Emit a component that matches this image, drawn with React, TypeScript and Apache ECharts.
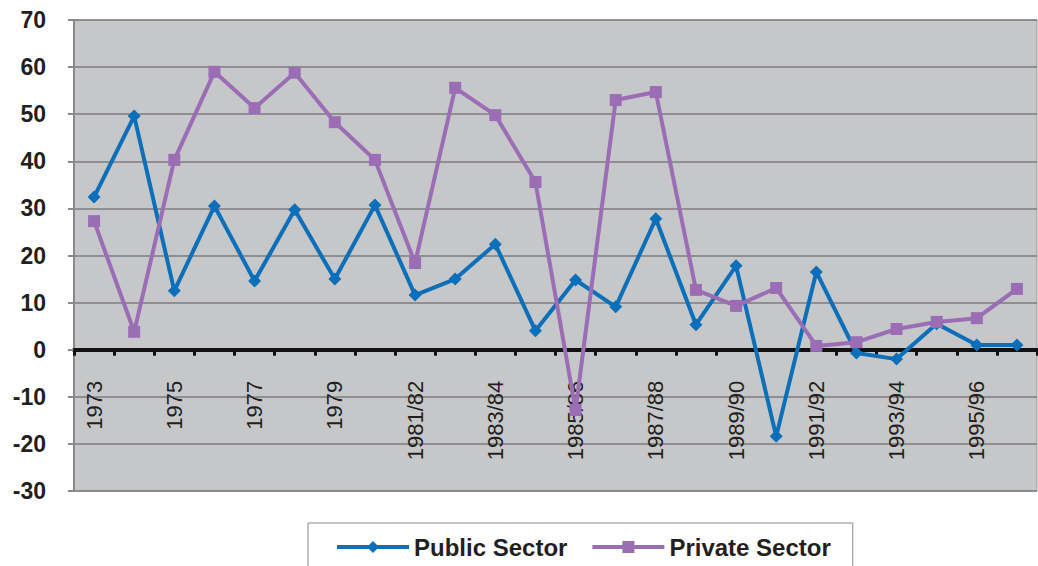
import React, { useEffect, useRef } from "react";
import * as echarts from "echarts";

const categories = [
  "1973", "1974", "1975", "1976", "1977", "1978", "1979", "1980",
  "1981/82", "1982/83", "1983/84", "1984/85", "1985/86", "1986/87", "1987/88", "1988/89",
  "1989/90", "1990/91", "1991/92", "1992/93", "1993/94", "1994/95", "1995/96", "1996/97",
];

const publicSector = [
  32.4, 49.6, 12.5, 30.5, 14.6, 29.7, 15.0, 30.7,
  11.6, 15.0, 22.4, 4.0, 14.8, 9.1, 27.8, 5.3,
  17.8, -18.4, 16.5, -0.7, -2.0, 5.5, 1.0, 1.0,
];

const privateSector = [
  27.3, 3.8, 40.3, 59.0, 51.3, 58.8, 48.3, 40.3,
  18.4, 55.6, 49.8, 35.6, -12.8, 53.0, 54.7, 12.7,
  9.3, 13.1, 0.8, 1.6, 4.4, 5.9, 6.7, 12.9,
];

const yMin = -30;
const yMax = 70;

const FONT = "'Liberation Sans', Arial, Helvetica, sans-serif";

export default function App() {
  const ref = useRef<HTMLDivElement>(null);

  useEffect(() => {
    document.body.style.margin = "0";
    if (!ref.current) return;
    const chart = echarts.init(ref.current, undefined, { renderer: "svg" });
    const gridTop = 20;
    const gridBottom = 75;
    const gridHeight = 566 - gridTop - gridBottom;
    const zeroOffset = -(gridHeight * (0 - yMin)) / (yMax - yMin);
    chart.setOption({
      animation: false,
      backgroundColor: "#ffffff",
      textStyle: { fontFamily: FONT },
      grid: {
        left: 74,
        right: 1,
        top: gridTop,
        bottom: gridBottom,
        outerBoundsMode: "none",
        containLabel: false,
        show: true,
        backgroundColor: "#c6c7c9",
        borderColor: "#9a9a9c",
        borderWidth: 1,
      },
      legend: {
        left: 308,
        top: 523,
        orient: "horizontal",
        padding: [12, 22, 30, 27],
        borderColor: "#8a8a8a",
        borderWidth: 1,
        itemWidth: 72,
        itemHeight: 15,
        itemGap: 23,
        lineStyle: { width: 4 },
        textStyle: {
          fontFamily: FONT,
          fontSize: 24,
          fontWeight: "bold",
          color: "#231f20",
        },
        data: ["Public Sector", "Private Sector"],
      },
      xAxis: {
        type: "category",
        data: categories,
        boundaryGap: true,
        position: "bottom",
        offset: zeroOffset,
        axisLine: { onZero: false, lineStyle: { color: "#111111", width: 4 } },
        axisTick: { show: true, interval: 0, length: 6, lineStyle: { color: "#111111", width: 3 } },
        axisLabel: {
          interval: 1,
          rotate: 90,
          margin: 31,
          fontFamily: FONT,
          fontSize: 22,
          color: "#231f20",
        },
        splitLine: { show: false },
      },
      yAxis: {
        type: "value",
        min: yMin,
        max: yMax,
        interval: 10,
        axisLine: { show: true, lineStyle: { color: "#8a8a8c", width: 2 } },
        axisTick: { show: true, length: 6, lineStyle: { color: "#8a8a8c", width: 2 } },
        axisLabel: {
          margin: 28,
          fontFamily: FONT,
          fontSize: 23,
          fontWeight: "bold",
          color: "#231f20",
        },
        splitLine: { show: true, lineStyle: { color: "#7d7d7f", width: 1.5 } },
      },
      series: [
        {
          name: "Public Sector",
          type: "line",
          data: publicSector,
          symbol: "diamond",
          symbolSize: 13,
          itemStyle: { color: "#0b6fba" },
          lineStyle: { color: "#0b6fba", width: 4 },
        },
        {
          name: "Private Sector",
          type: "line",
          data: privateSector,
          symbol: "rect",
          symbolSize: 12,
          itemStyle: { color: "#9b6db5" },
          lineStyle: { color: "#9b6db5", width: 4 },
        },
      ],
    });
    return () => chart.dispose();
  }, []);

  return <div ref={ref} style={{ width: 1038, height: 566 }} />;
}
